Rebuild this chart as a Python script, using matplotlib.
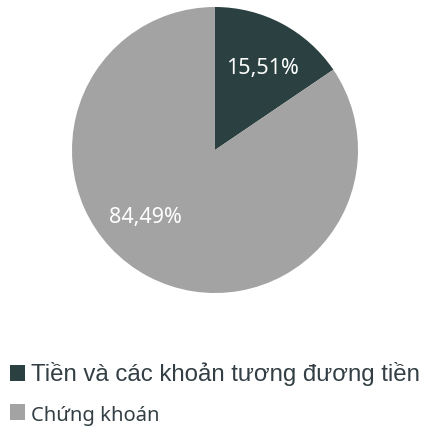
import matplotlib.pyplot as plt
import numpy as np
from matplotlib.patches import Patch

labels = ['Tiền và các khoản tương đương tiền', 'Chứng khoán']
values = [15.51, 84.49]
pct_text = ['15,51%', '84,49%']
colors = ['#2b4040', '#a3a3a3']

W, H = 427, 430
fig = plt.figure(figsize=(W / 100, H / 100), dpi=100)

# pie centre (215, 150) px from top-left, radius 143 px
cx, cy, r = 215, 150, 143
ax = fig.add_axes([(cx - r) / W, (H - cy - r) / H, 2 * r / W, 2 * r / H])
wedges, _ = ax.pie(values, colors=colors, startangle=90, counterclock=False,
                   radius=1, wedgeprops=dict(linewidth=0))
ax.set_xlim(-1, 1)
ax.set_ylim(-1, 1)
ax.set_aspect('equal')

# percentage labels (distance, angle in degrees)
label_pos = [(0.66, 60), (0.68, -136)]
for txt, (dist, ang) in zip(pct_text, label_pos):
    a = np.deg2rad(ang)
    ax.text(dist * np.cos(a), dist * np.sin(a), txt, ha='center', va='center',
            color='white', fontsize=15.5, family=['Noto Sans', 'DejaVu Sans'])

# legend
handles = [Patch(facecolor=c, edgecolor='none') for c in colors]
leg = fig.legend(handles, labels, loc='upper left', bbox_to_anchor=(0.0, 0.18),
                 frameon=False, fontsize=17.3, handlelength=0.65, handleheight=0.65,
                 handletextpad=0.25, labelspacing=0.75, borderaxespad=0)
texts = leg.get_texts()
texts[0].set_family(['Liberation Sans', 'DejaVu Sans'])
texts[1].set_family(['Noto Sans', 'DejaVu Sans'])
texts[1].set_fontsize(14.5)
for t in texts:
    t.set_color('#333f44')

fig.savefig('out.png', dpi=100)
